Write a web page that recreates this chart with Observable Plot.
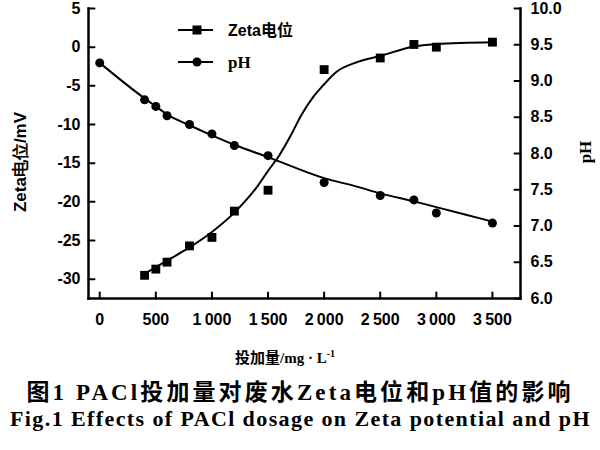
<!DOCTYPE html>
<html><head><meta charset="utf-8">
<script src="https://cdn.jsdelivr.net/npm/d3@7"></script>
<script src="https://cdn.jsdelivr.net/npm/@observablehq/plot@0.6"></script>
<style>
html,body{margin:0;padding:0;background:#fff;}
body{width:600px;height:450px;overflow:hidden;position:relative;}
#chart{position:absolute;left:0;top:0;}
.lbl{position:absolute;font-family:"Liberation Sans Narrow","Liberation Sans",Arial,sans-serif;font-weight:bold;color:#000;white-space:nowrap;}
.cap{position:absolute;left:0;width:600px;text-align:center;white-space:nowrap;font-family:"Liberation Serif","Noto Sans CJK SC",serif;font-weight:bold;color:#000;line-height:1;}
</style></head><body>
<div id="chart"></div>
<script>
// ---- data ----
const zetaDosage = [400, 500, 600, 800, 1000, 1200, 1500, 2000, 2500, 2800, 3000, 3500];
const zetaValues = [-29.5, -28.7, -27.8, -25.7, -24.6, -21.2, -18.5, -2.9, -1.4, 0.35, 0.0, 0.65];
const phDosage = [0, 400, 500, 600, 800, 1000, 1200, 1500, 2000, 2500, 2800, 3000, 3500];
const phValues = [9.25, 8.74, 8.65, 8.52, 8.40, 8.27, 8.11, 7.97, 7.60, 7.42, 7.36, 7.18, 7.04];
// fitted curves as drawn in the reference
const zetaFitDosage = [400, 600, 800, 1000, 1200, 1400, 1500, 1600, 1700, 1800, 1900, 2000, 2100, 2300, 2500, 2800, 3000, 3500];
const zetaFitValues = [-29.3, -27.6, -25.9, -23.9, -21.4, -18.1, -16.0, -14.0, -11.5, -8.7, -6.5, -4.8, -3.3, -1.9, -1.15, 0.1, 0.4, 0.65];
const phFitDosage = [0, 400, 500, 600, 800, 1000, 1200, 1500, 2000, 2300, 2500, 2800, 3000, 3500];
const phFitValues = [9.25, 8.76, 8.65, 8.54, 8.39, 8.25, 8.12, 7.95, 7.66, 7.54, 7.45, 7.34, 7.26, 7.06];
// axes
const xTicks = [0, 500, 1000, 1500, 2000, 2500, 3000, 3500];
const xTickLabels = ["0", "500", "1\u2009000", "1\u2009500", "2\u2009000", "2\u2009500", "3\u2009000", "3\u2009500"];
const zetaTicks = [5, 0, -5, -10, -15, -20, -25, -30];
const zetaTickLabels = ["5", "0", "-5", "-10", "-15", "-20", "-25", "-30"];
const phTicks = [6.0, 6.5, 7.0, 7.5, 8.0, 8.5, 9.0, 9.5, 10.0];
const phTickLabels = ["6.0", "6.5", "7.0", "7.5", "8.0", "8.5", "9.0", "9.5", "10.0"];
const zetaDomain = [-32.5, 5];
const phDomain = [6, 10];
const xDomain = [-100, 3750];

// map pH onto the left (zeta) scale for the twin axis
const toY = d3.scaleLinear().domain(phDomain).range(zetaDomain);

const zetaPts = zetaDosage.map((x, i) => ({x, y: zetaValues[i]}));
const phPts = phDosage.map((x, i) => ({x, y: toY(phValues[i])}));
const zetaFit = zetaFitDosage.map((x, i) => ({x, y: zetaFitValues[i]}));
const phFit = phFitDosage.map((x, i) => ({x, y: toY(phFitValues[i])}));

const xLab = new Map(xTicks.map((d, i) => [d, xTickLabels[i]]));
const zLab = new Map(zetaTicks.map((d, i) => [d, zetaTickLabels[i]]));
const phTickY = phTicks.map(toY);
const pLab = new Map(phTickY.map((d, i) => [d, phTickLabels[i]]));

// inward tick marks: a plain line segment as vector shape
const tickShape = {draw(ctx, l) { ctx.moveTo(0, 0); ctx.lineTo(0, -l); }};
const TICK = 6;
const tickOpts = {length: TICK, anchor: "start", shape: tickShape, stroke: "#000", strokeWidth: 2};

const chart = Plot.plot({
  width: 600, height: 340,
  marginTop: 8, marginLeft: 88, marginRight: 80, marginBottom: 42,
  x: {domain: xDomain},
  y: {domain: zetaDomain},
  style: {fontFamily: '"Liberation Sans Narrow","Liberation Sans",Arial,sans-serif', fontSize: "16px", fontWeight: "bold", color: "#000", background: "#fff"},
  marks: [
    Plot.axisY(zetaTicks, {anchor: "left", tickSize: 0, tickPadding: 8, tickFormat: d => zLab.get(d), label: null}),
    Plot.axisY(phTickY, {anchor: "right", tickSize: 0, tickPadding: 10, tickFormat: d => pLab.get(d), label: null}),
    Plot.axisX(xTicks, {anchor: "bottom", tickSize: 0, tickPadding: 15, tickFormat: d => xLab.get(d), label: null}),
    Plot.vector(zetaTicks, {y: d => d, frameAnchor: "left", rotate: 90, ...tickOpts}),
    Plot.vector(phTickY, {y: d => d, frameAnchor: "right", rotate: -90, ...tickOpts}),
    Plot.vector(xTicks, {x: d => d, frameAnchor: "bottom", rotate: 0, ...tickOpts}),
    Plot.frame({anchor: "left", strokeWidth: 2.5}),
    Plot.frame({anchor: "bottom", strokeWidth: 2.5}),
    Plot.frame({anchor: "right", strokeWidth: 2.5}),
    Plot.line(zetaFit, {x: "x", y: "y", curve: "monotone-x", stroke: "#000", strokeWidth: 2}),
    Plot.line(phFit, {x: "x", y: "y", curve: "monotone-x", stroke: "#000", strokeWidth: 2}),
    Plot.dot(zetaPts, {x: "x", y: "y", symbol: "square", r: 5, fill: "#000", stroke: "none"}),
    Plot.dot(phPts, {x: "x", y: "y", symbol: "circle", r: 4.5, fill: "#000", stroke: "none"})
  ]
});
document.getElementById("chart").appendChild(chart);
</script>
<!-- legend -->
<svg style="position:absolute;left:170px;top:15px" width="160" height="60">
  <line x1="8" y1="15" x2="43" y2="15" stroke="#000" stroke-width="2"/>
  <rect x="22.5" y="10.5" width="9" height="9" fill="#000"/>
  <line x1="8" y1="47" x2="43" y2="47" stroke="#000" stroke-width="2"/>
  <circle cx="27" cy="47" r="4.5" fill="#000"/>
  <text x="58" y="21" font-family="Liberation Sans Narrow, Liberation Sans, Noto Sans CJK SC, sans-serif" font-weight="bold" font-size="16">Zeta电位</text>
  <text x="58" y="53" font-family="Liberation Serif, serif" font-weight="bold" font-size="17">pH</text>
</svg>
<div class="lbl" style="left:20px;top:162px;font-size:17px;transform:translate(-50%,-50%) rotate(-90deg);">Zeta电位/mV</div>
<div class="lbl" style="left:586px;top:152px;font-size:17px;font-family:'Liberation Serif',serif;transform:translate(-50%,-50%) rotate(-90deg);">pH</div>
<div class="cap" style="top:349px;font-size:15px;padding-right:30px;box-sizing:border-box;">投加量/mg · L<sup style="font-size:10px">-1</sup></div>
<div class="cap" style="top:381px;font-size:23px;letter-spacing:3.1px;">图1 PACl投加量对废水Zeta电位和pH值的影响</div>
<div class="cap" style="top:408px;font-size:22px;letter-spacing:1.4px;text-align:left;left:10px;">Fig.1 Effects of PACl dosage on Zeta potential and pH</div>
</body></html>
